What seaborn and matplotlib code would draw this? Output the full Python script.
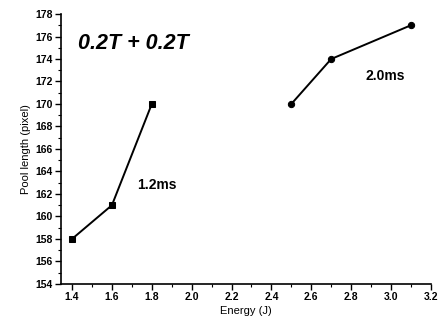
import matplotlib
matplotlib.use("Agg")
import matplotlib.pyplot as plt
import seaborn as sns
import pandas as pd
from matplotlib.ticker import MultipleLocator

energy_12 = [1.4, 1.6, 1.8]
pool_12 = [158, 161, 170]
energy_20 = [2.5, 2.7, 3.1]
pool_20 = [170, 174, 177]

sns.set_theme(style="ticks")
plt.rcParams['font.family'] = ['Liberation Sans', 'DejaVu Sans']
plt.rcParams['text.color'] = 'black'
plt.rcParams['axes.labelcolor'] = 'black'
plt.rcParams['xtick.color'] = 'black'
plt.rcParams['ytick.color'] = 'black'

fig = plt.figure(figsize=(4.46, 3.34), dpi=100)
ax = fig.add_axes([0.137, 0.150, 0.829, 0.808])

df1 = pd.DataFrame({"x": energy_12, "y": pool_12})
df2 = pd.DataFrame({"x": energy_20, "y": pool_20})
sns.lineplot(data=df1, x="x", y="y", ax=ax, color="black", marker="s",
             markersize=4.5, linewidth=1.4, markeredgecolor="black")
sns.lineplot(data=df2, x="x", y="y", ax=ax, color="black", marker="o",
             markersize=4.5, linewidth=1.4, markeredgecolor="black")

ax.set_xlim(1.345, 3.2)
ax.set_ylim(154, 178)
ax.xaxis.set_minor_locator(MultipleLocator(0.1))
ax.yaxis.set_major_locator(MultipleLocator(2))
ax.yaxis.set_minor_locator(MultipleLocator(1))
ax.set_xticks([1.4, 1.6, 1.8, 2.0, 2.2, 2.4, 2.6, 2.8, 3.0, 3.2])
ax.set_xticklabels(["1.4", "1.6", "1.8", "2.0", "2.2", "2.4", "2.6", "2.8", "3.0", "3.2"])
sns.despine(ax=ax)
for s in ["left", "bottom"]:
    ax.spines[s].set_linewidth(1.2)
    ax.spines[s].set_color("black")
ax.tick_params(which="major", direction="out", length=4, width=1, labelsize=7.5,
               colors="black", pad=2)
ax.tick_params(which="minor", direction="out", length=2, width=0.8, colors="black")
for lab in ax.get_xticklabels() + ax.get_yticklabels():
    lab.set_fontweight("bold")

ax.set_xlabel("Energy (J)", fontsize=8, labelpad=3, color="black")
ax.set_ylabel("Pool length (pixel)", fontsize=8, labelpad=3, color="black")

ax.text(0.045, 0.89, "0.2T + 0.2T", transform=ax.transAxes, fontsize=15.5,
        fontweight="bold", fontstyle="italic", ha="left", va="center", color="black")
ax.text(0.205, 0.365, "1.2ms", transform=ax.transAxes, fontsize=10,
        fontweight="bold", ha="left", va="center", color="black")
ax.text(0.822, 0.77, "2.0ms", transform=ax.transAxes, fontsize=10,
        fontweight="bold", ha="left", va="center", color="black")

fig.savefig("out.png", dpi=100)
